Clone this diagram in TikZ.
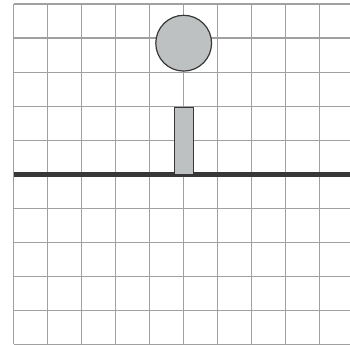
\documentclass[tikz,border=0pt]{standalone}
\usepackage{tikz}
\usepackage{xcolor}
\definecolor{gridgray}{RGB}{160,160,160}
\definecolor{bodygray}{RGB}{190,193,193}
\definecolor{edgedark}{RGB}{55,55,55}

\begin{document}
\begin{tikzpicture}[x=1cm,y=1cm]
  \useasboundingbox (-0.4,-5.02) rectangle (9.89,5.12);
  % grid
  \begin{scope}
    \clip (-0.4,-5.02) rectangle (9.89,5.12);
    \foreach \x in {0,...,9}{
      \draw[gridgray,line width=1pt] (\x,-5) -- (\x,5);
    }
    \foreach \y in {-5,...,5}{
      \draw[gridgray,line width=1pt] (0,\y) -- (10,\y);
    }
  \end{scope}
  % ground
  \draw[edgedark,line width=4.2pt] (0,0) -- (9.89,0);
  % post and ball
  \draw[edgedark,fill=bodygray,line width=0.9pt] (4.74,0) rectangle (5.28,1.96);
  \draw[edgedark,fill=bodygray,line width=1pt] (5,3.85) circle (0.82);
\end{tikzpicture}
\end{document}
